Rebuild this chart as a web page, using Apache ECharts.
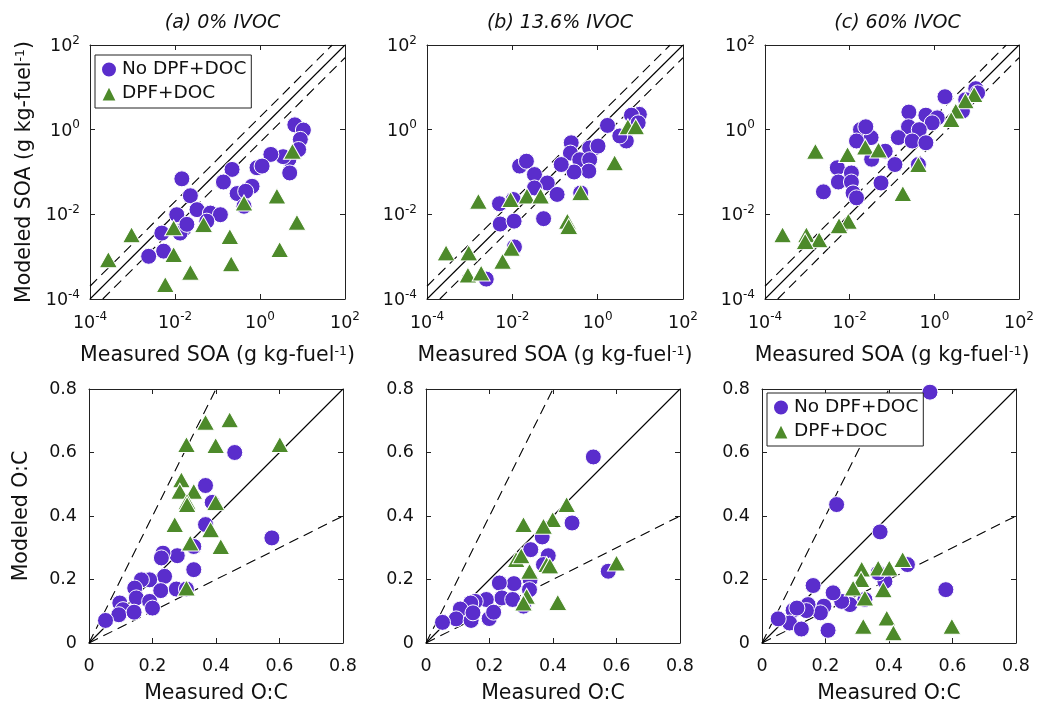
<!DOCTYPE html>
<html><head><meta charset="utf-8">
<script src="https://cdn.jsdelivr.net/npm/echarts@6/dist/echarts.min.js"></script>
<style>html,body{margin:0;padding:0;background:#fff}#c{width:1037px;height:705px}</style>
</head><body><div id="c"></div><script>
// ---------- data ----------
const panelTitles = ['(a) 0% IVOC', '(b) 13.6% IVOC', '(c) 60% IVOC'];
const seriesNames = ['No DPF+DOC', 'DPF+DOC'];
const logTickExponents = [-4, -2, 0, 2];
const ocTicks = [0, 0.2, 0.4, 0.6, 0.8];
const refRatios = [1, 2, 0.5];

// Panel (a) SOA, 0% IVOC  [measured, modeled] g kg-fuel-1
const soaA_noDPF = [[6.6,1.3],[10.5,0.98],[8.9,0.59],[8.1,0.34],[4.8,0.20],[5.0,0.095],[3.5,0.23],[1.8,0.26],[0.85,0.126],[1.12,0.138],[0.22,0.115],[0.138,0.058],[0.65,0.046],[0.29,0.031],[0.46,0.035],[0.42,0.0155],[0.0145,0.069],[0.023,0.0275],[0.033,0.0129],[0.068,0.0107],[0.117,0.0098],[0.056,0.0069],[0.011,0.0098],[0.0158,0.0044],[0.0132,0.0036],[0.0049,0.0036],[0.0054,0.00135],[0.0024,0.00102],[0.019,0.0058]];
const soaA_DPF = [[5.8,0.31],[2.5,0.027],[0.42,0.0186],[7.4,0.0065],[0.047,0.0058],[0.0093,0.0048],[0.00095,0.0033],[0.195,0.003],[0.00027,0.00085],[0.0093,0.00112],[2.9,0.00148],[0.21,0.00068],[0.023,0.00043],[0.0059,0.00022]];
// Panel (b) SOA, 13.6% IVOC
const soaB_noDPF = [[9.5,2.3],[6.2,2.2],[8.9,1.45],[4.7,0.54],[3.3,0.71],[1.7,1.26],[0.85,0.37],[0.65,0.37],[1.02,0.41],[0.24,0.49],[0.23,0.28],[0.38,0.195],[0.65,0.195],[0.62,0.105],[0.28,0.1],[0.14,0.15],[0.0148,0.138],[0.0214,0.18],[0.033,0.087],[0.066,0.055],[0.033,0.042],[0.112,0.0295],[0.005,0.0178],[0.0105,0.0224],[0.0052,0.0059],[0.011,0.0069],[0.054,0.0079],[0.4,0.032],[0.0112,0.0017],[0.00245,0.000295]];
const soaB_DPF = [[5.1,1.17],[7.8,1.17],[2.5,0.166],[0.4,0.033],[0.0091,0.0224],[0.022,0.027],[0.046,0.027],[0.0016,0.0204],[0.195,0.0069],[0.21,0.0052],[0.00028,0.00123],[0.00095,0.00123],[0.0095,0.00158],[0.0059,0.00078],[0.00091,0.00037],[0.00186,0.00041]];
// Panel (c) SOA, 60% IVOC
const soaC_noDPF = [[1.78,6.0],[9.5,9.3],[10.5,7.4],[4.6,2.75],[5.5,5.1],[0.25,2.6],[0.63,2.2],[1.17,1.9],[0.89,1.45],[0.245,1.17],[0.44,1.0],[0.141,0.65],[0.3,0.54],[0.63,0.49],[0.018,1.0],[0.032,0.65],[0.0145,0.54],[0.069,0.31],[0.033,0.2],[0.117,0.15],[0.0051,0.126],[0.011,0.095],[0.0054,0.058],[0.011,0.058],[0.0024,0.034],[0.012,0.032],[0.0145,0.0245],[0.055,0.055],[0.42,0.15],[0.024,1.17]];
const soaC_DPF = [[8.7,6.8],[5.4,4.8],[3.2,2.75],[2.5,1.74],[0.42,0.15],[0.00155,0.31],[0.0089,0.26],[0.0234,0.39],[0.048,0.33],[0.18,0.031],[0.0093,0.0069],[0.0056,0.0054],[0.00026,0.0033],[0.00095,0.0033],[0.0019,0.0025],[0.00089,0.0023]];
// Panel (d) O:C, 0% IVOC  [measured, modeled]
const ocA_noDPF = [[0.459,0.600],[0.576,0.331],[0.367,0.496],[0.388,0.443],[0.367,0.373],[0.330,0.304],[0.330,0.231],[0.278,0.275],[0.233,0.283],[0.228,0.268],[0.238,0.210],[0.191,0.199],[0.165,0.199],[0.144,0.173],[0.226,0.165],[0.275,0.170],[0.307,0.170],[0.149,0.142],[0.191,0.131],[0.200,0.110],[0.097,0.126],[0.107,0.105],[0.094,0.089],[0.142,0.097],[0.052,0.071]];
const ocA_DPF = [[0.443,0.703],[0.367,0.695],[0.307,0.625],[0.399,0.622],[0.601,0.625],[0.291,0.514],[0.286,0.478],[0.330,0.478],[0.309,0.446],[0.309,0.436],[0.399,0.443],[0.270,0.373],[0.383,0.357],[0.319,0.315],[0.415,0.304],[0.307,0.173]];
// Panel (e) O:C, 13.6% IVOC
const ocB_noDPF = [[0.527,0.586],[0.460,0.378],[0.574,0.226],[0.366,0.334],[0.330,0.294],[0.385,0.275],[0.370,0.247],[0.328,0.200],[0.326,0.168],[0.307,0.116],[0.277,0.187],[0.231,0.189],[0.239,0.142],[0.273,0.137],[0.190,0.137],[0.155,0.131],[0.141,0.126],[0.108,0.107],[0.095,0.076],[0.142,0.071],[0.199,0.077],[0.148,0.095],[0.213,0.097],[0.052,0.065]];
const ocB_DPF = [[0.443,0.436],[0.399,0.389],[0.307,0.373],[0.370,0.368],[0.284,0.263],[0.380,0.247],[0.600,0.252],[0.326,0.226],[0.317,0.147],[0.307,0.126],[0.415,0.128],[0.300,0.275],[0.390,0.243]];
// Panel (f) O:C, 60% IVOC
const ocC_noDPF = [[0.529,0.790],[0.235,0.436],[0.372,0.350],[0.579,0.168],[0.161,0.181],[0.458,0.247],[0.387,0.194],[0.366,0.221],[0.324,0.137],[0.277,0.121],[0.251,0.131],[0.224,0.158],[0.195,0.116],[0.184,0.095],[0.145,0.121],[0.140,0.102],[0.098,0.103],[0.087,0.063],[0.051,0.076],[0.124,0.044],[0.208,0.040],[0.110,0.110]];
const ocC_DPF = [[0.443,0.263],[0.366,0.236],[0.401,0.236],[0.314,0.233],[0.312,0.200],[0.287,0.173],[0.382,0.168],[0.324,0.142],[0.319,0.053],[0.393,0.079],[0.414,0.032],[0.598,0.053]];

// ---------- layout / style ----------
const FONT = 'DejaVu Sans';
const TXT = '#111';
const PURPLE = '#5A2DCC';
const GREEN = '#4D8A2A';
const grids = [
  {left: 90, top: 45, width: 255, height: 254},
  {left: 427, top: 45, width: 256, height: 254},
  {left: 765, top: 45, width: 255, height: 254},
  {left: 89, top: 389, width: 254, height: 254},
  {left: 426, top: 389, width: 254, height: 254},
  {left: 762, top: 389, width: 254, height: 254}
];
const panels = [
  {log: true, no: soaA_noDPF, dpf: soaA_DPF, yName: true},
  {log: true, no: soaB_noDPF, dpf: soaB_DPF},
  {log: true, no: soaC_noDPF, dpf: soaC_DPF},
  {log: false, no: ocA_noDPF, dpf: ocA_DPF, yName: true},
  {log: false, no: ocB_noDPF, dpf: ocB_DPF},
  {log: false, no: ocC_noDPF, dpf: ocC_DPF}
];

const supRich = {
  b: {fontSize: 17.5, fontFamily: FONT, color: TXT, lineHeight: 21, verticalAlign: 'bottom'},
  s: {fontSize: 12, fontFamily: FONT, color: TXT, lineHeight: 12, verticalAlign: 'top'}
};
const nameRich = {
  s: {fontSize: 12.5, fontFamily: FONT, color: TXT, lineHeight: 12, verticalAlign: 'top'}
};

function makeAxis(i, isLog, pos, main, isX) {
  const lo = isLog ? Math.pow(10, logTickExponents[0]) : ocTicks[0];
  const hi = isLog ? Math.pow(10, logTickExponents[logTickExponents.length - 1]) : ocTicks[ocTicks.length - 1];
  const a = {
    gridIndex: i, position: pos,
    type: isLog ? 'log' : 'value',
    min: lo, max: hi,
    interval: isLog ? (logTickExponents[1] - logTickExponents[0]) : (ocTicks[1] - ocTicks[0]),
    axisLine: {show: true, onZero: false, lineStyle: {color: '#222', width: 1}},
    axisTick: {show: true, inside: true, length: 5, lineStyle: {color: '#222', width: 1}},
    splitLine: {show: false},
    minorTick: {show: false},
    axisLabel: {show: main}
  };
  if (isLog) a.logBase = 10;
  if (main) {
    if (isLog) {
      a.axisLabel = {show: true, margin: isX ? 12 : 10, rich: supRich,
        formatter: v => '{b|10}{s|' + Math.round(Math.log10(v)) + '}'};
    } else {
      a.axisLabel = {show: true, margin: isX ? 14 : 12, fontSize: 17.5, fontFamily: FONT, color: TXT,
        formatter: v => (Math.abs(v) < 1e-9 ? '0' : v.toFixed(1))};
    }
  }
  return a;
}

const xAxes = [], yAxes = [], series = [], titles = [];
panels.forEach((p, i) => {
  const xm = makeAxis(i, p.log, 'bottom', true, true);
  xm.name = p.log ? 'Measured SOA (g kg-fuel{s|-1})' : 'Measured O:C';
  xm.nameLocation = 'middle';
  xm.nameGap = p.log ? 46 : 40;
  xm.nameTextStyle = {fontSize: 20.5, fontFamily: FONT, color: TXT, verticalAlign: 'top', rich: nameRich};
  xAxes.push(xm, makeAxis(i, p.log, 'top', false, true));
  const ym = makeAxis(i, p.log, 'left', true, false);
  if (p.yName) {
    ym.name = p.log ? 'Modeled SOA (g kg-fuel{s|-1})' : 'Modeled O:C';
    ym.nameLocation = 'middle';
    ym.nameGap = p.log ? 55 : 57;
    ym.nameTextStyle = {fontSize: 20.5, fontFamily: FONT, color: TXT, rich: nameRich};
  }
  yAxes.push(ym, makeAxis(i, p.log, 'right', false, false));
  const xi = 2 * i, yi = 2 * i;
  // reference lines y = r * x clipped to axis extent
  const lo = p.log ? Math.pow(10, logTickExponents[0]) : ocTicks[0];
  const hi = p.log ? Math.pow(10, logTickExponents[logTickExponents.length - 1]) : ocTicks[ocTicks.length - 1];
  refRatios.forEach(r => {
    const x0 = Math.max(lo, lo / r), x1 = Math.min(hi, hi / r);
    series.push({
      type: 'line', name: 'ratio ' + r, xAxisIndex: xi, yAxisIndex: yi,
      data: [[x0, x0 * r], [x1, x1 * r]], symbol: 'none', silent: true, z: 1,
      lineStyle: {color: '#000', width: 1.1, type: r === 1 ? 'solid' : [10, 6]}
    });
  });
  series.push({
    type: 'scatter', name: seriesNames[0], xAxisIndex: xi, yAxisIndex: yi, data: p.no,
    symbol: 'circle', symbolSize: 16, z: 3,
    itemStyle: {color: PURPLE, borderColor: '#fff', borderWidth: 1, opacity: 1}
  });
  series.push({
    type: 'scatter', name: seriesNames[1], xAxisIndex: xi, yAxisIndex: yi, data: p.dpf,
    symbol: 'triangle', symbolSize: [18, 16], z: 4,
    itemStyle: {color: GREEN, borderColor: '#fff', borderWidth: 1, opacity: 1}
  });
});

panelTitles.forEach((t, k) => {
  const g = grids[k];
  titles.push({
    text: t, left: g.left + g.width / 2, top: 9, textAlign: 'center',
    textStyle: {fontSize: 19, fontStyle: 'italic', fontWeight: 'normal', fontFamily: FONT, color: TXT}
  });
});

function makeLegend(left, top) {
  return {
    left: left, top: top, orient: 'vertical',
    backgroundColor: '#fff', borderColor: '#222', borderWidth: 1, borderRadius: 0,
    padding: [4, 5, 4, 5], itemGap: 3, itemWidth: 16, itemHeight: 16,
    textStyle: {fontSize: 18.5, fontFamily: FONT, color: TXT, lineHeight: 21},
    data: [{name: seriesNames[0], icon: 'circle'}, {name: seriesNames[1], icon: 'triangle'}],
    selectedMode: false
  };
}

const chart = echarts.init(document.getElementById('c'), null, {renderer: 'canvas'});
chart.setOption({
  backgroundColor: '#fff',
  animation: false,
  title: titles,
  grid: grids,
  xAxis: xAxes,
  yAxis: yAxes,
  legend: [makeLegend(95, 55), makeLegend(767, 393)],
  series: series
});
</script></body></html>
